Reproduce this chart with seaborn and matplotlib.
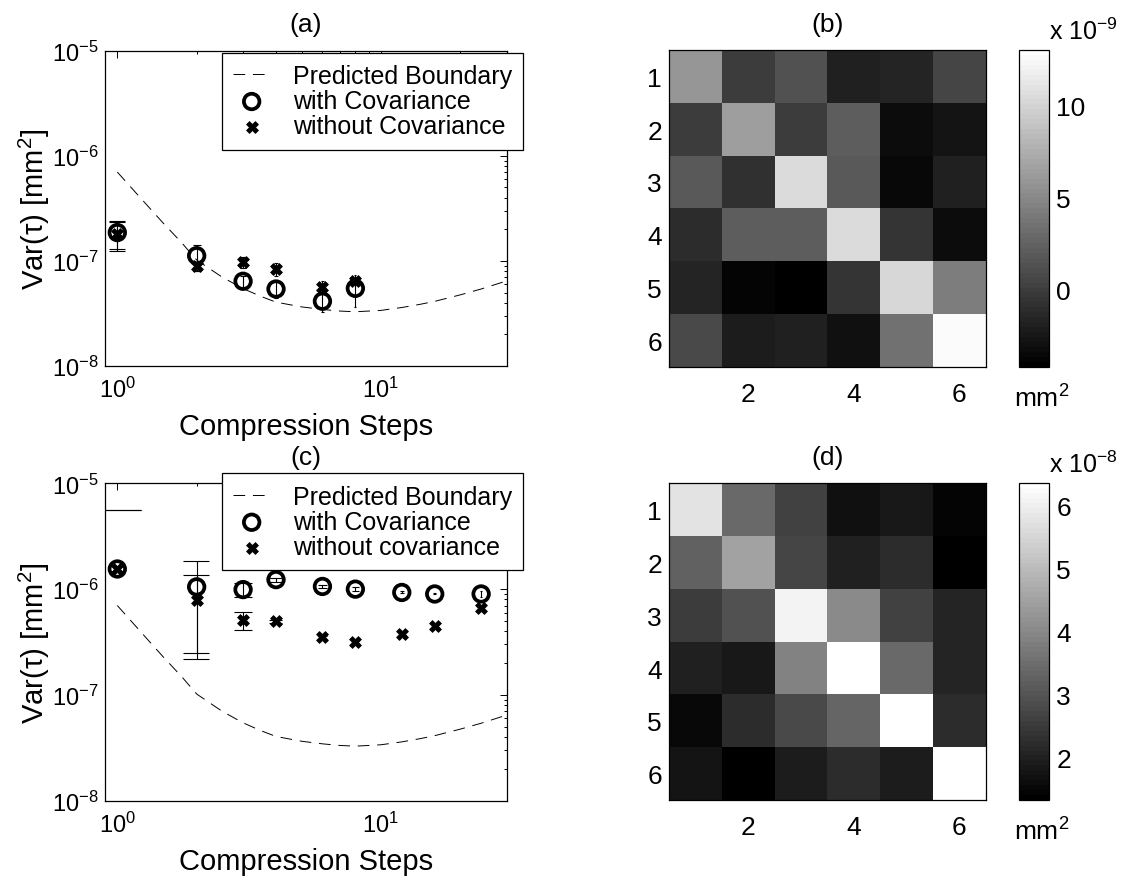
import numpy as np
import pandas as pd
import matplotlib
matplotlib.use("Agg")
import matplotlib.pyplot as plt
from matplotlib.colors import ListedColormap
from matplotlib.ticker import LogLocator, NullFormatter
import seaborn as sns

# ---------------- data ----------------
# (a) variance of tau vs. number of compression steps
steps_a = [1, 2, 3, 4, 6, 8]
var_cov_a = [1.86e-7, 1.12e-7, 6.4e-8, 5.4e-8, 4.13e-8, 5.48e-8]
err_cov_a = [5.5e-8, 3.1e-8, 8e-9, 1.0e-8, 9e-9, 1.86e-8]
var_nocov_a = [1.80e-7, 8.9e-8, 9.8e-8, 8.4e-8, 5.6e-8, 6.5e-8]
err_nocov_a = [5.5e-8, 8e-9, 1.2e-8, 1.2e-8, 7.8e-9, 6e-9]

# (c) second data set
steps_c = [1, 2, 3, 4, 6, 8, 12, 16, 24]
var_cov_c = [1.55e-6, 1.05e-6, 9.9e-7, 1.23e-6, 1.06e-6, 1.0e-6, 9.3e-7, 9.0e-7, 9.0e-7]
err_cov_c = [4.0e-6, 8.0e-7, 1.5e-7, 5e-8, 4e-8, 4e-8, 2e-8, 1e-8, 6e-8]
var_nocov_c = [1.55e-6, 7.9e-7, 5.1e-7, 4.96e-7, 3.5e-7, 3.14e-7, 3.77e-7, 4.5e-7, 6.7e-7]
err_nocov_c = [4.0e-6, 5.7e-7, 1.0e-7, 2e-8, 1e-8, 1e-8, 1e-8, 1e-8, 3e-8]

# predicted lower boundary
bound_steps = [1, 1.25, 1.5, 1.75, 2, 2.5, 3, 3.5, 4, 5, 6, 7, 8, 10, 12, 14, 16, 20, 24, 30]
bound_var = [7.0e-7, 3.75e-7, 2.26e-7, 1.5e-7, 1.02e-7, 7.0e-8, 5.45e-8, 4.6e-8, 4.05e-8,
             3.65e-8, 3.45e-8, 3.33e-8, 3.28e-8, 3.38e-8, 3.6e-8, 3.85e-8, 4.12e-8,
             4.75e-8, 5.4e-8, 6.45e-8]

# (b) covariance matrix, units of 1e-9 mm^2
cov_b = [
    [6.00, -0.15, 1.40, -1.91, -1.57, 0.59],
    [-0.15, 6.46, -0.15, 2.21, -3.39, -2.85],
    [1.74, -0.96, 10.57, 1.74, -3.66, -1.91],
    [-1.23, 2.21, 2.21, 10.37, -0.56, -3.39],
    [-1.57, -3.80, -4.20, -0.56, 10.10, 4.16],
    [0.79, -2.31, -1.91, -3.12, 3.49, 12.53],
]
# (d) covariance matrix, units of 1e-8 mm^2
cov_d = [
    [5.75, 3.40, 2.62, 1.68, 1.83, 1.42],
    [3.26, 4.52, 2.68, 1.99, 2.23, 1.32],
    [2.57, 2.94, 6.06, 4.05, 2.62, 2.09],
    [2.01, 1.83, 3.85, 6.36, 3.40, 2.09],
    [1.48, 2.23, 2.80, 3.34, 6.36, 2.23],
    [1.77, 1.32, 1.95, 2.23, 1.95, 6.36],
]
matrix_labels = ["1", "2", "3", "4", "5", "6"]

# ---------------- style ----------------
sns.set_style("white")
plt.rcParams["font.family"] = ["Liberation Sans", "DejaVu Sans"]
plt.rcParams["mathtext.fontset"] = "custom"
plt.rcParams["mathtext.rm"] = "Liberation Sans"
plt.rcParams["mathtext.it"] = "Liberation Sans:italic"
plt.rcParams["mathtext.default"] = "regular"
plt.rcParams["axes.unicode_minus"] = True
for key in ("text.color", "axes.labelcolor", "xtick.color", "ytick.color",
            "axes.edgecolor"):
    plt.rcParams[key] = "k"

LW_AX = 0.9
gray64 = ListedColormap(plt.cm.gray(np.linspace(0, 1, 64)))

fig = plt.figure(figsize=(11.44, 8.79), dpi=100)
ax_a = fig.add_axes([0.0920, 0.5825, 0.3509, 0.3587])
ax_c = fig.add_axes([0.0920, 0.0879, 0.3509, 0.3611])
ax_b = fig.add_axes([0.5848, 0.5817, 0.2768, 0.3603])
cax_b = fig.add_axes([0.8910, 0.5817, 0.0262, 0.3603])
ax_d = fig.add_axes([0.5848, 0.0887, 0.2768, 0.3603])
cax_d = fig.add_axes([0.8910, 0.0887, 0.0262, 0.3603])


def error_bars(ax, x, y, e, tee):
    """Vertical error bars with horizontal tees; lower half dropped when non-positive."""
    for xi, yi, ei in zip(x, y, e):
        lo, hi = yi - ei, yi + ei
        if lo > 0:
            ax.vlines(xi, lo, hi, color="k", lw=0.8, zorder=2)
            ax.hlines(lo, xi - tee, xi + tee, color="k", lw=0.8, zorder=2)
        ax.hlines(hi, xi - tee, xi + tee, color="k", lw=0.8, zorder=2)


def variance_panel(ax, steps, vc, ec, vn, en, nocov_label, title, legend_top):
    ax.set_xscale("log")
    ax.set_yscale("log")
    sns.lineplot(x=bound_steps, y=bound_var, ax=ax, color="k", lw=0.7,
                 linestyle=(0, (12, 8)), label="Predicted Boundary", zorder=1)
    tee = (max(steps) - min(steps)) / 100
    error_bars(ax, steps, vc, ec, tee)
    error_bars(ax, steps, vn, en, tee)
    sns.scatterplot(x=steps, y=vc, ax=ax, marker="o", s=125, color="k",
                    facecolor="none", edgecolor="k", linewidth=2.7,
                    label="with Covariance", zorder=3)
    sns.scatterplot(x=steps, y=vn, ax=ax, marker="X", s=72, color="k",
                    edgecolor="k", linewidth=0.6, label=nocov_label, zorder=4)
    ax.set_xlim(0.9, 30)
    ax.set_ylim(1e-8, 1e-5)
    ax.xaxis.set_major_locator(LogLocator(base=10, numticks=10))
    ax.xaxis.set_minor_locator(LogLocator(base=10, subs=np.arange(2, 10), numticks=20))
    ax.yaxis.set_major_locator(LogLocator(base=10, numticks=10))
    ax.yaxis.set_minor_locator(LogLocator(base=10, subs=np.arange(2, 10), numticks=20))
    ax.xaxis.set_minor_formatter(NullFormatter())
    ax.yaxis.set_minor_formatter(NullFormatter())
    ax.tick_params(which="both", direction="in", top=True, right=True,
                   width=0.7, labelsize=17)
    ax.tick_params(which="major", length=5)
    ax.tick_params(which="minor", length=2.5)
    ax.tick_params(axis="x", pad=8)
    ax.tick_params(axis="y", pad=5)
    for s in ax.spines.values():
        s.set_visible(True)
        s.set_linewidth(LW_AX)
        s.set_color("k")
    ax.set_xlabel("Compression Steps", fontsize=21, labelpad=7)
    ax.set_ylabel("Var(τ) [mm$^2$]", fontsize=21, labelpad=0)
    ax.set_title(title, fontsize=19, pad=14)
    leg = ax.legend(loc="upper right", bbox_to_anchor=(1.0414, legend_top),
                    fontsize=18, frameon=True, fancybox=False, framealpha=1,
                    edgecolor="k", handlelength=1.5, handletextpad=0.9,
                    labelspacing=0.05, borderpad=0.45, borderaxespad=0,
                    scatterpoints=1)
    leg.get_frame().set_linewidth(LW_AX)
    leg.set_zorder(10)


def matrix_panel(ax, cax, data, vmin, vmax, cticks, title, exponent):
    sns.heatmap(pd.DataFrame(data), ax=ax, cmap=gray64, vmin=vmin, vmax=vmax,
                cbar_ax=cax, xticklabels=False, yticklabels=False)
    ax.set_xticks([1.5, 3.5, 5.5])
    ax.set_xticklabels([matrix_labels[1], matrix_labels[3], matrix_labels[5]])
    ax.set_yticks(np.arange(6) + 0.5)
    ax.set_yticklabels(matrix_labels, rotation=0)
    ax.tick_params(direction="in", top=True, right=True, length=4, width=0.7,
                   labelsize=19, colors="k")
    ax.tick_params(axis="x", pad=11)
    ax.tick_params(axis="y", pad=5)
    for s in ax.spines.values():
        s.set_visible(True)
        s.set_linewidth(LW_AX)
        s.set_color("k")
    ax.set_title(title, fontsize=19, pad=14)
    cbar = ax.collections[0].colorbar
    cbar.set_ticks(cticks)
    cbar.outline.set_linewidth(LW_AX)
    cbar.outline.set_edgecolor("k")
    cax.tick_params(direction="in", left=True, right=True, length=4, width=0.7,
                    labelsize=19, pad=5, colors="k")
    cax.text(1.0, 1.035, "x 10$^{%d}$" % exponent, transform=cax.transAxes,
             ha="left", va="baseline", fontsize=18)
    cax.text(-0.18, -0.126, "mm$^2$", transform=cax.transAxes,
             ha="left", va="baseline", fontsize=19)


variance_panel(ax_a, steps_a, var_cov_a, err_cov_a, var_nocov_a, err_nocov_a,
               "without Covariance", "(a)", 0.994)
variance_panel(ax_c, steps_c, var_cov_c, err_cov_c, var_nocov_c, err_nocov_c,
               "without covariance", "(c)", 1.0315)
matrix_panel(ax_b, cax_b, cov_b, -4.2, 13.0, [0, 5, 10], "(b)", -9)
matrix_panel(ax_d, cax_d, cov_d, 1.32, 6.36, [2, 3, 4, 5, 6], "(d)", -8)

fig.savefig("out.png", dpi=100)
